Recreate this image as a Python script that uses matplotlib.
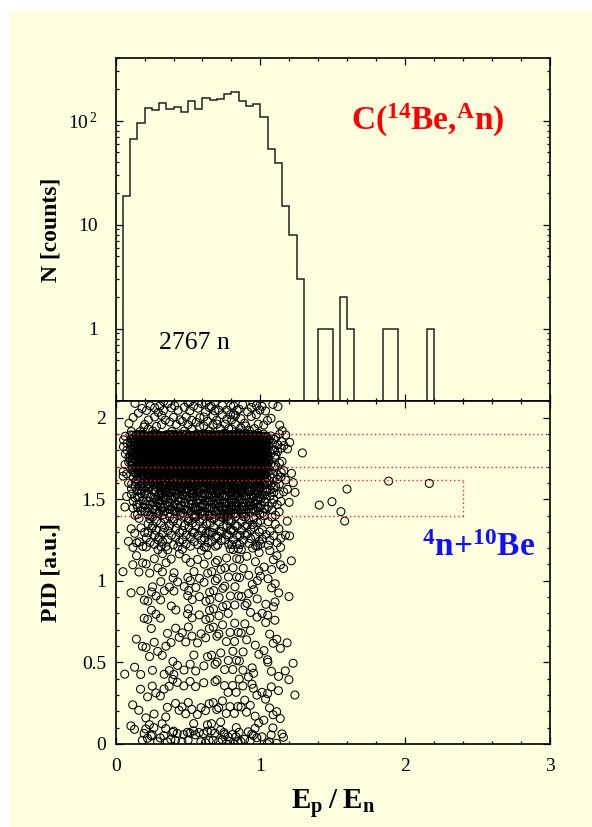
import numpy as np
import matplotlib
matplotlib.use("Agg")
import matplotlib.pyplot as plt
from matplotlib.patches import Rectangle
from matplotlib.ticker import FixedLocator, MultipleLocator, LogLocator, NullFormatter

plt.rcParams["font.family"] = "serif"
plt.rcParams["font.serif"] = ["Liberation Serif", "DejaVu Serif"]
plt.rcParams["mathtext.fontset"] = "custom"
plt.rcParams["mathtext.rm"] = "Liberation Serif"
plt.rcParams["mathtext.it"] = "Liberation Serif:italic"
plt.rcParams["mathtext.bf"] = "Liberation Serif:bold"

# --- data ---
# histogram of Ep/En, bins of 0.05 from 0 to 3
bin_edges = np.linspace(0.0, 3.0, 61)
counts = np.zeros(60)
counts[:26] = [0, 19, 67, 96, 132, 127, 147, 129, 136, 122,
               155, 129, 165, 158, 162, 180, 188, 156, 139, 144,
               109, 54, 39, 15, 8, 3]
counts[28] = 1
counts[29] = 1
counts[31] = 2
counts[32] = 1
counts[37] = 1
counts[38] = 1
counts[43] = 1
n_total = 2767

# PID bands and the share of events per band (estimated from the scatter density)
pid_band_edges = [0.0, 0.1, 0.4, 0.8, 1.2, 1.4, 1.55, 1.65, 1.75, 1.9, 2.1]
pid_share_core = [0.022, 0.025, 0.03, 0.04, 0.055, 0.09, 0.10, 0.21, 0.388, 0.04]  # Ep/En < 1.05
pid_share_tail = [0.05, 0.08, 0.10, 0.12, 0.12, 0.12, 0.10, 0.10, 0.17, 0.04]      # 1.05 - 1.30

# isolated events beyond the main cloud
outlier_x = [1.407, 1.495, 1.599, 1.557, 1.583, 1.887, 2.168]
outlier_pid = [1.464, 1.485, 1.562, 1.424, 1.366, 1.611, 1.597]

# PID cuts (red dotted)
cut_lines = [1.9, 1.7]
box_low, box_high, box_right = 1.40, 1.62, 2.40

# --- build the scatter cloud: spread each (x-bin, PID band) count over its cell ---
xs, ys = [], []
k = 0
for i in range(26):
    shares = pid_share_core if bin_edges[i] < 1.05 else pid_share_tail
    for j, s in enumerate(shares):
        n = int(round(counts[i] * s))
        x0, x1 = bin_edges[i], bin_edges[i + 1]
        y0, y1 = pid_band_edges[j], pid_band_edges[j + 1]
        for _ in range(n):
            k += 1
            u = (0.5 + k * 0.7548776662) % 1.0
            v = (0.5 + k * 0.5698402910) % 1.0
            xs.append(x0 + u * (x1 - x0))
            ys.append(y0 + v * (y1 - y0))
xs += outlier_x
ys += outlier_pid

bg = "#ffffe0"
fig = plt.figure(figsize=(5.92, 8.27), dpi=100)
fig.patches.append(Rectangle((10 / 592, 0), 1, 1 - 11 / 827, transform=fig.transFigure,
                             facecolor=bg, edgecolor="none", zorder=-10))

ax1 = fig.add_axes([0.1954, 0.5155, 0.7331, 0.4144])
ax2 = fig.add_axes([0.1954, 0.1004, 0.7331, 0.4151])

for ax in (ax1, ax2):
    ax.set_facecolor(bg)
    for sp in ax.spines.values():
        sp.set_linewidth(1.2)
    ax.tick_params(which="both", direction="in", top=True, right=True,
                   labelsize=14, width=0.9)
    ax.tick_params(which="major", length=5)
    ax.tick_params(which="minor", length=2.5)
    ax.set_xlim(0, 3)
    ax.xaxis.set_major_locator(FixedLocator([0, 1, 2, 3]))
    ax.xaxis.set_minor_locator(MultipleLocator(0.2))

# top: histogram
plot_counts = np.where(counts > 0, counts, 1e-3)
ax1.stairs(plot_counts, bin_edges, baseline=1e-3, color="#222222", lw=1.1)
ax1.set_yscale("log")
ax1.set_ylim(0.203, 401)
ax1.yaxis.set_major_locator(FixedLocator([1, 10, 100]))
ax1.set_yticklabels(["1", "10", r"$10^{\,2}$"])
ax1.yaxis.set_minor_locator(LogLocator(base=10, subs=np.arange(2, 10)))
ax1.yaxis.set_minor_formatter(NullFormatter())
ax1.tick_params(axis="x", labelbottom=False)
ax1.tick_params(axis="y", pad=13)
ax1.set_ylabel("N [counts]", fontsize=17, fontweight="bold")
ax1.yaxis.set_label_coords(-0.124, 0.5)
ax1.text(1.63, 0.79, r"$\mathbf{C(^{14}Be{,}^{A}n)}$", color="red", fontsize=24,
         transform=ax1.get_xaxis_transform(), ha="left", va="baseline")
ax1.text(0.30, 0.634, f"{n_total} n", fontsize=18.5, ha="left", va="baseline")

# bottom: PID vs Ep/En
ax2.scatter(xs, ys, s=33, facecolors="none", edgecolors="black", linewidths=0.75)
ax2.hlines(cut_lines, 0, 3, colors="#ff2020", linestyles=(0, (1, 2)), lw=1)
ax2.hlines([box_low, box_high], 0, box_right, colors="#ff2020", linestyles=(0, (1, 2)), lw=1)
ax2.vlines(box_right, box_low, box_high, colors="#ff2020", linestyles=(0, (1, 2)), lw=1)
ax2.set_ylim(0, 2.104)
ax2.yaxis.set_major_locator(FixedLocator([0, 0.5, 1, 1.5, 2]))
ax2.set_yticklabels(["0", "0.5", "1", "1.5", "2"])
ax2.yaxis.set_minor_locator(MultipleLocator(0.1))
ax2.tick_params(axis="y", pad=7)
ax2.tick_params(axis="x", pad=10)
ax2.set_ylabel("PID [a.u.]", fontsize=17, fontweight="bold")
ax2.yaxis.set_label_coords(-0.124, 0.5)
ax2.set_xlabel(r"$\mathbf{E_{p}\;/\;E_{n}}$", fontsize=21)
ax2.xaxis.set_label_coords(0.5, -0.125)
ax2.text(2.115, 1.154, r"$\mathbf{{}^{4}n{+}{}^{10}Be}$", color="#1010ff",
         fontsize=24, ha="left", va="baseline")

fig.savefig("out.png", dpi=100, facecolor="white")
